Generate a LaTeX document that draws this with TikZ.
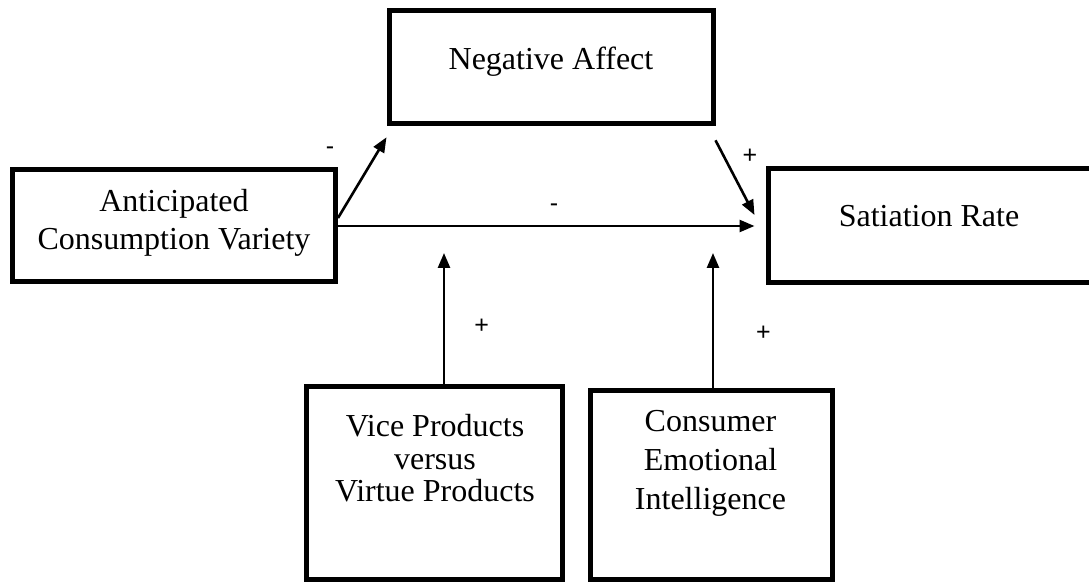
\documentclass[tikz,border=0pt]{standalone}
\usepackage{fontspec}
\setmainfont{Liberation Serif}
\newfontfamily\signfont{Liberation Sans}
\usetikzlibrary{arrows.meta,positioning,calc}

\begin{document}
\begin{tikzpicture}[
    x=0.5pt, y=-0.5pt,
    construct/.style={draw,line width=2.5pt,inner sep=0pt},
    boxtext/.style={anchor=base,align=center,inner sep=0pt,
                    font=\fontsize{16}{19}\selectfont},
    arrow/.style={-{Triangle[length=7.5pt,width=6pt]},line width=1.3pt},
    sign/.style={anchor=base,inner sep=0pt,
                 font=\signfont\fontsize{12.5}{15}\selectfont},
  ]
  \useasboundingbox (0,0) rectangle (1089,583);

  % Construct boxes
  \node[construct,minimum width=162pt,minimum height=56.5pt]  (neg)  at (551,67.3)  {};
  \node[construct,minimum width=161.5pt,minimum height=56pt]  (acv)  at (174,226)   {};
  \node[construct,minimum width=161.5pt,minimum height=57pt]  (sat)  at (929.5,226) {};
  \node[construct,minimum width=128pt,minimum height=96.5pt]  (vice) at (434,483)   {};
  \node[construct,minimum width=121pt,minimum height=94.75pt] (cei)  at (711,484.8) {};

  % Box texts (base = last line)
  \node[boxtext] (negtxt)  at (551,69.5)  {Negative Affect};
  \node[boxtext] (acvtxt)  at (174,249.3) {Anticipated\\Consumption Variety};
  \node[boxtext] (sattxt)  at (929,226.7) {Satiation Rate};
  \node[boxtext,font=\fontsize{16}{16.25}\selectfont]
                 (vicetxt) at (435,501.7) {Vice Products\\versus\\Virtue Products};
  \node[boxtext,font=\fontsize{16}{19.4}\selectfont]
                 (ceitxt)  at (710.5,509.1) {Consumer\\Emotional\\Intelligence};

  % Arrow ends
  \coordinate (acvout)  at ($(acv.east)+(0,-8)$);
  \coordinate (negin)   at ($(neg.south west)+(0,11)$);
  \coordinate (negout)  at ($(neg.south east)+(0,14)$);
  \coordinate (satin)   at ($(sat.west)+(-11,-11)$);
  \coordinate (vicetip) at ($(acv.east -| vice.north)+(10,27)$);
  \coordinate (ceitip)  at ($(acv.east -| cei.north)+(2,27)$);

  % Paths
  \draw[arrow] (acvout) -- (negin);
  \draw[arrow] (negout) -- (satin);
  \draw[arrow,shorten >=5.5pt] (acv.east) -- (sat.west);
  \draw[arrow] ($(vice.north)+(10,0)$) -- (vicetip);
  \draw[arrow] ($(cei.north)+(2,0)$) -- (ceitip);

  % Signs
  \node[sign] (s1) at (330,155)     {-};
  \node[sign] (s2) at (750,163.8)   {+};
  \node[sign] (s3) at (554,211.6)   {-};
  \node[sign] (s4) at (481.7,333.8) {+};
  \node[sign] (s5) at (763.3,340.5) {+};
\end{tikzpicture}
\end{document}
